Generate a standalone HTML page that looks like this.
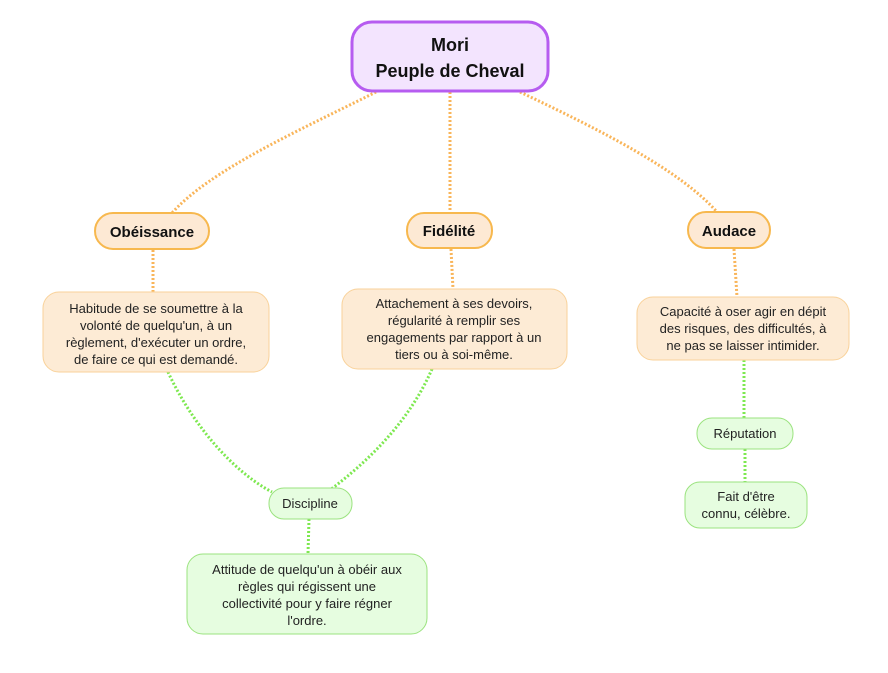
<!DOCTYPE html>
<html><head><meta charset="utf-8"><style>
html,body{margin:0;padding:0;background:#fff;}
svg{display:block;font-family:"Liberation Sans",sans-serif;}
</style></head><body>
<svg width="888" height="673" viewBox="0 0 888 673" xmlns="http://www.w3.org/2000/svg">
<g fill="none" stroke-linecap="butt">
<g stroke="#f9b55a" stroke-width="3" stroke-dasharray="2 2">
<path d="M376 92 C300 130 210 170 172 213"/>
<path d="M450 92 L450 213"/>
<path d="M520 92 C600 130 680 170 717 212"/>
<path d="M153 250 L153 292"/>
<path d="M451 249 L453 289"/>
<path d="M734 249 L737 297"/>
</g>
<g stroke="#7ee850" stroke-width="3" stroke-dasharray="2 2">
<path d="M168 372 C190 420 230 470 272 492"/>
<path d="M432 369 C410 420 370 460 330 490"/>
<path d="M309 519 L308 554"/>
<path d="M744 360 L744 418"/>
<path d="M745 449 L745 482"/>
</g>
</g>
<rect x="352" y="22" width="196" height="69" rx="20" fill="#f3e4fe" stroke="#b65cf0" stroke-width="3"/>
<text x="450" y="51" font-size="18" font-weight="bold" text-anchor="middle" fill="#111">Mori</text>
<text x="450" y="77" font-size="18" font-weight="bold" text-anchor="middle" fill="#111">Peuple de Cheval</text>
<g fill="#fde9d4" stroke="#f7b84e" stroke-width="2">
<rect x="95" y="213" width="114" height="36" rx="18"/>
<rect x="407" y="213" width="85" height="35" rx="17"/>
<rect x="688" y="212" width="82" height="36" rx="18"/>
</g>
<g font-size="15" font-weight="bold" text-anchor="middle" fill="#111">
<text x="152" y="237">Obéissance</text>
<text x="449" y="236">Fidélité</text>
<text x="729" y="236">Audace</text>
</g>
<g fill="#fdebd5" stroke="#f9d29a" stroke-width="1">
<rect x="43" y="292" width="226" height="80" rx="16"/>
<rect x="342" y="289" width="225" height="80" rx="16"/>
<rect x="637" y="297" width="212" height="63" rx="16"/>
</g>
<g font-size="13" text-anchor="middle" fill="#222">
<text x="156" y="313">Habitude de se soumettre à la</text>
<text x="156" y="330">volonté de quelqu'un, à un</text>
<text x="156" y="347">règlement, d'exécuter un ordre,</text>
<text x="156" y="364">de faire ce qui est demandé.</text>
<text x="454" y="308">Attachement à ses devoirs,</text>
<text x="454" y="325">régularité à remplir ses</text>
<text x="454" y="342">engagements par rapport à un</text>
<text x="454" y="359">tiers ou à soi-même.</text>
<text x="743" y="316">Capacité à oser agir en dépit</text>
<text x="743" y="333">des risques, des difficultés, à</text>
<text x="743" y="350">ne pas se laisser intimider.</text>
</g>
<g fill="#e6fde0" stroke="#9be37f" stroke-width="1">
<rect x="269" y="488" width="83" height="31" rx="15"/>
<rect x="187" y="554" width="240" height="80" rx="16"/>
<rect x="697" y="418" width="96" height="31" rx="15"/>
<rect x="685" y="482" width="122" height="46" rx="15"/>
</g>
<g font-size="13" text-anchor="middle" fill="#222">
<text x="310" y="508">Discipline</text>
<text x="307" y="574">Attitude de quelqu'un à obéir aux</text>
<text x="307" y="591">règles qui régissent une</text>
<text x="307" y="608">collectivité pour y faire régner</text>
<text x="307" y="625">l'ordre.</text>
<text x="745" y="438">Réputation</text>
<text x="746" y="501">Fait d'être</text>
<text x="746" y="518">connu, célèbre.</text>
</g>
</svg>
</body></html>
